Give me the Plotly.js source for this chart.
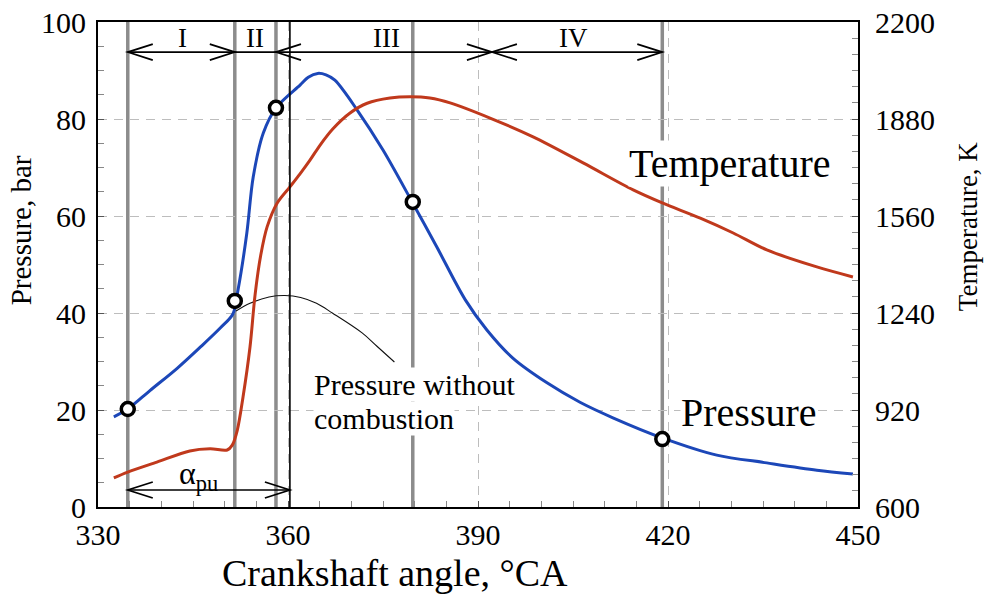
<!DOCTYPE html>
<html>
<head>
<meta charset="utf-8">
<script src="https://cdn.plot.ly/plotly-3.0.1.min.js"></script>
<style>html,body{margin:0;padding:0;background:#fff;}#chart{width:989px;height:595px;}</style>
</head>
<body>
<div id="chart"></div>
<script>
// ---- data ----
const pressureAngle = [332.5, 334.7, 338.2, 342.5, 346.1, 349.3, 351.3, 352.1, 353.5, 354.5, 356.1, 358.1, 361.9, 363.2, 364.7, 366.0, 367.4, 370.9, 375.0, 379.6, 383.5, 388.0, 391.4, 395.5, 400.9, 406.1, 411.3, 419.2, 427.7, 435.6, 443.5, 449.2];
const pressureBar   = [18.6, 20.2, 24.0, 28.6, 32.9, 36.9, 39.8, 44.7, 56.5, 68.0, 77.1, 82.3, 87.0, 88.6, 89.4, 89.1, 88.0, 81.9, 73.6, 62.9, 53.6, 42.7, 36.5, 30.7, 25.6, 21.6, 18.4, 14.2, 10.7, 9.1, 7.6, 6.8];

const tempAngle = [332.5, 334.7, 339.3, 344.5, 347.7, 350.4, 351.2, 352.0, 352.9, 354.0, 354.8, 355.7, 356.7, 358.3, 360.3, 361.9, 363.5, 365.1, 367.1, 369.8, 372.5, 376.1, 379.3, 382.4, 385.6, 391.9, 398.7, 406.6, 414.5, 419.1, 425.1, 430.3, 435.6, 443.5, 449.2];
const tempK     = [696, 715, 748, 785, 792, 788, 804, 854, 963, 1128, 1300, 1431, 1524, 1603, 1656, 1699, 1745, 1795, 1848, 1900, 1932, 1949, 1953, 1949, 1933, 1883, 1821, 1735, 1646, 1603, 1553, 1504, 1448, 1392, 1359];

const motoringAngle = [351.8, 354, 357, 359.5, 362, 364.5, 367, 371.7, 374, 376.8];
const motoringBar   = [40.4, 42, 43.3, 43.6, 43.2, 42, 40, 35.9, 33.2, 29.9];

const stageAngle = [334.7, 351.6, 358.1, 379.7, 419.1];
const stageBar   = [20.2, 42.5, 82.3, 62.9, 14.0];
const tdcAngle = 360.3;
const ivBoundary = 392.2;

const stageLabels = ["I", "II", "III", "IV"];
const stageLabelAngle = [343.4, 354.8, 375.6, 405];

const xTicks = [330, 360, 390, 420, 450];
const yTicks = [0, 20, 40, 60, 80, 100];
const y2Ticks = [600, 920, 1240, 1560, 1880, 2200];

// ---- styling ----
const SERIF = "Liberation Serif, Times New Roman, serif";
const BLUE = "#1c47b8";
const RED = "#c0391c";
const GRAY = "#8c8c8c";

const traces = [
  {x: motoringAngle, y: motoringBar, type: "scatter", mode: "lines",
   line: {color: "#111", width: 1.1, shape: "spline", smoothing: 1}, hoverinfo: "skip"},
  {x: tempAngle, y: tempK, yaxis: "y2", type: "scatter", mode: "lines",
   line: {color: RED, width: 3, shape: "spline", smoothing: 0.9}},
  {x: pressureAngle, y: pressureBar, type: "scatter", mode: "lines",
   line: {color: BLUE, width: 3, shape: "spline", smoothing: 0.9}},
  {x: stageAngle, y: stageBar, type: "scatter", mode: "markers",
   marker: {symbol: "circle", size: 13, color: "#fff", line: {color: "#000", width: 3.5}}}
];

const shapes = [];
stageAngle.forEach(a => shapes.push({type: "line", xref: "x", yref: "paper", x0: a, x1: a, y0: 0, y1: 1,
  line: {color: GRAY, width: 3.5}, layer: "between"}));
shapes.push({type: "line", xref: "x", yref: "paper", x0: tdcAngle, x1: tdcAngle, y0: 0, y1: 1,
  line: {color: "#000", width: 1.6}, layer: "above"});

// stage arrows
const arrowY = 93.8;
const alphaY = 3.5;
const ARW = {color: "#000", width: 1.7};
shapes.push({type: "line", xref: "x", yref: "y", x0: stageAngle[0], x1: stageAngle[4], y0: arrowY, y1: arrowY, line: ARW});
shapes.push({type: "line", xref: "x", yref: "y", x0: stageAngle[0], x1: tdcAngle, y0: alphaY, y1: alphaY, line: ARW});
function chevron(xa, ya, dir) { // dir = +1 points right, -1 points left
  const L = 25 * dir, H = 8;
  return {type: "path", xref: "x", yref: "y", xsizemode: "pixel", ysizemode: "pixel", xanchor: xa, yanchor: ya,
    path: `M${-L},${H} L0,0 L${-L},${-H}`, line: ARW, fillcolor: "rgba(0,0,0,0)"};
}
shapes.push(chevron(stageAngle[0], arrowY, -1));
shapes.push(chevron(stageAngle[1], arrowY, 1));
shapes.push(chevron(stageAngle[2], arrowY, -1));
shapes.push(chevron(ivBoundary, arrowY, 1));
shapes.push(chevron(ivBoundary, arrowY, -1));
shapes.push(chevron(stageAngle[4], arrowY, 1));
shapes.push(chevron(stageAngle[0], alphaY, -1));
shapes.push(chevron(tdcAngle, alphaY, 1));

function txt(x, y, text, size, extra) {
  return Object.assign({x: x, y: y, xref: "x", yref: "y", text: text, showarrow: false,
    xanchor: "center", yanchor: "middle", font: {family: SERIF, size: size, color: "#000"}}, extra || {});
}

const annotations = [
  txt(345.8, 6.4, "α<sub>pu</sub>", 32),
  txt(432.8, 19.4, "Pressure", 40, {bgcolor: "#fff", borderpad: 0}),
  txt(429.8, 70.8, "Temperature", 40, {bgcolor: "#fff", borderpad: 0}),
  txt(364, 25.2, "Pressure without", 30, {xanchor: "left", bgcolor: "#fff", borderpad: 0}),
  txt(364, 18.3, "combustion", 30, {xanchor: "left", bgcolor: "#fff", borderpad: 0}),
  {x: -0.101, y: 0.571, xref: "paper", yref: "paper", text: "Pressure, bar", textangle: -90, showarrow: false,
   xanchor: "center", yanchor: "middle", font: {family: SERIF, size: 29, color: "#000"}},
  {x: 1.1447, y: 0.579, xref: "paper", yref: "paper", text: "Temperature, K", textangle: -90, showarrow: false,
   xanchor: "center", yanchor: "middle", font: {family: SERIF, size: 27, color: "#000"}},
  {x: 0.3908, y: -0.136, xref: "paper", yref: "paper", text: "Crankshaft angle, °CA", showarrow: false,
   xanchor: "center", yanchor: "middle", font: {family: SERIF, size: 38, color: "#000"}}
];
stageLabels.forEach((t, i) => annotations.push(txt(stageLabelAngle[i], 96.8, t, 27)));

const gridStyle = {showgrid: true, gridcolor: "#bdbdbd", gridwidth: 1, griddash: "9px,7px"};
const TICKFONT = {family: SERIF, size: 30, color: "#000"};

const layout = {
  width: 989, height: 595,
  margin: {l: 98, r: 131, t: 22, b: 88},
  paper_bgcolor: "#fff", plot_bgcolor: "#fff",
  showlegend: false,
  font: {family: SERIF, size: 30, color: "#000"},
  xaxis: Object.assign({range: [330, 450], tickvals: xTicks, ticktext: xTicks.map(String),
    ticks: "inside", ticklen: 6, tickcolor: "#555", showline: true, mirror: true, linecolor: "#000", linewidth: 2,
    zeroline: false, tickfont: TICKFONT,
    minor: {dtick: 5, ticks: "inside", ticklen: 6, tickcolor: "#888", showgrid: false}}, gridStyle),
  yaxis: Object.assign({range: [0, 100], tickvals: yTicks, ticktext: yTicks.map(String),
    ticks: "inside", ticklen: 6, tickcolor: "#555", showline: true, mirror: true, linecolor: "#000", linewidth: 2,
    zeroline: false, tickfont: TICKFONT, ticklabelstandoff: 4,
    minor: {dtick: 5, ticks: "inside", ticklen: 6, tickcolor: "#888", showgrid: false}}, gridStyle),
  yaxis2: {overlaying: "y", side: "right", range: [600, 2200], tickvals: y2Ticks, ticktext: y2Ticks.map(String),
    ticks: "inside", ticklen: 6, tickcolor: "#555", showline: false, showgrid: false, zeroline: false,
    tickfont: TICKFONT, ticklabelstandoff: 16,
    minor: {tick0: 600, dtick: 320 / 6, ticks: "inside", ticklen: 6, tickcolor: "#888", showgrid: false}},
  shapes: shapes,
  annotations: annotations
};

Plotly.newPlot("chart", traces, layout, {staticPlot: true, displayModeBar: false});
</script>
</body>
</html>
